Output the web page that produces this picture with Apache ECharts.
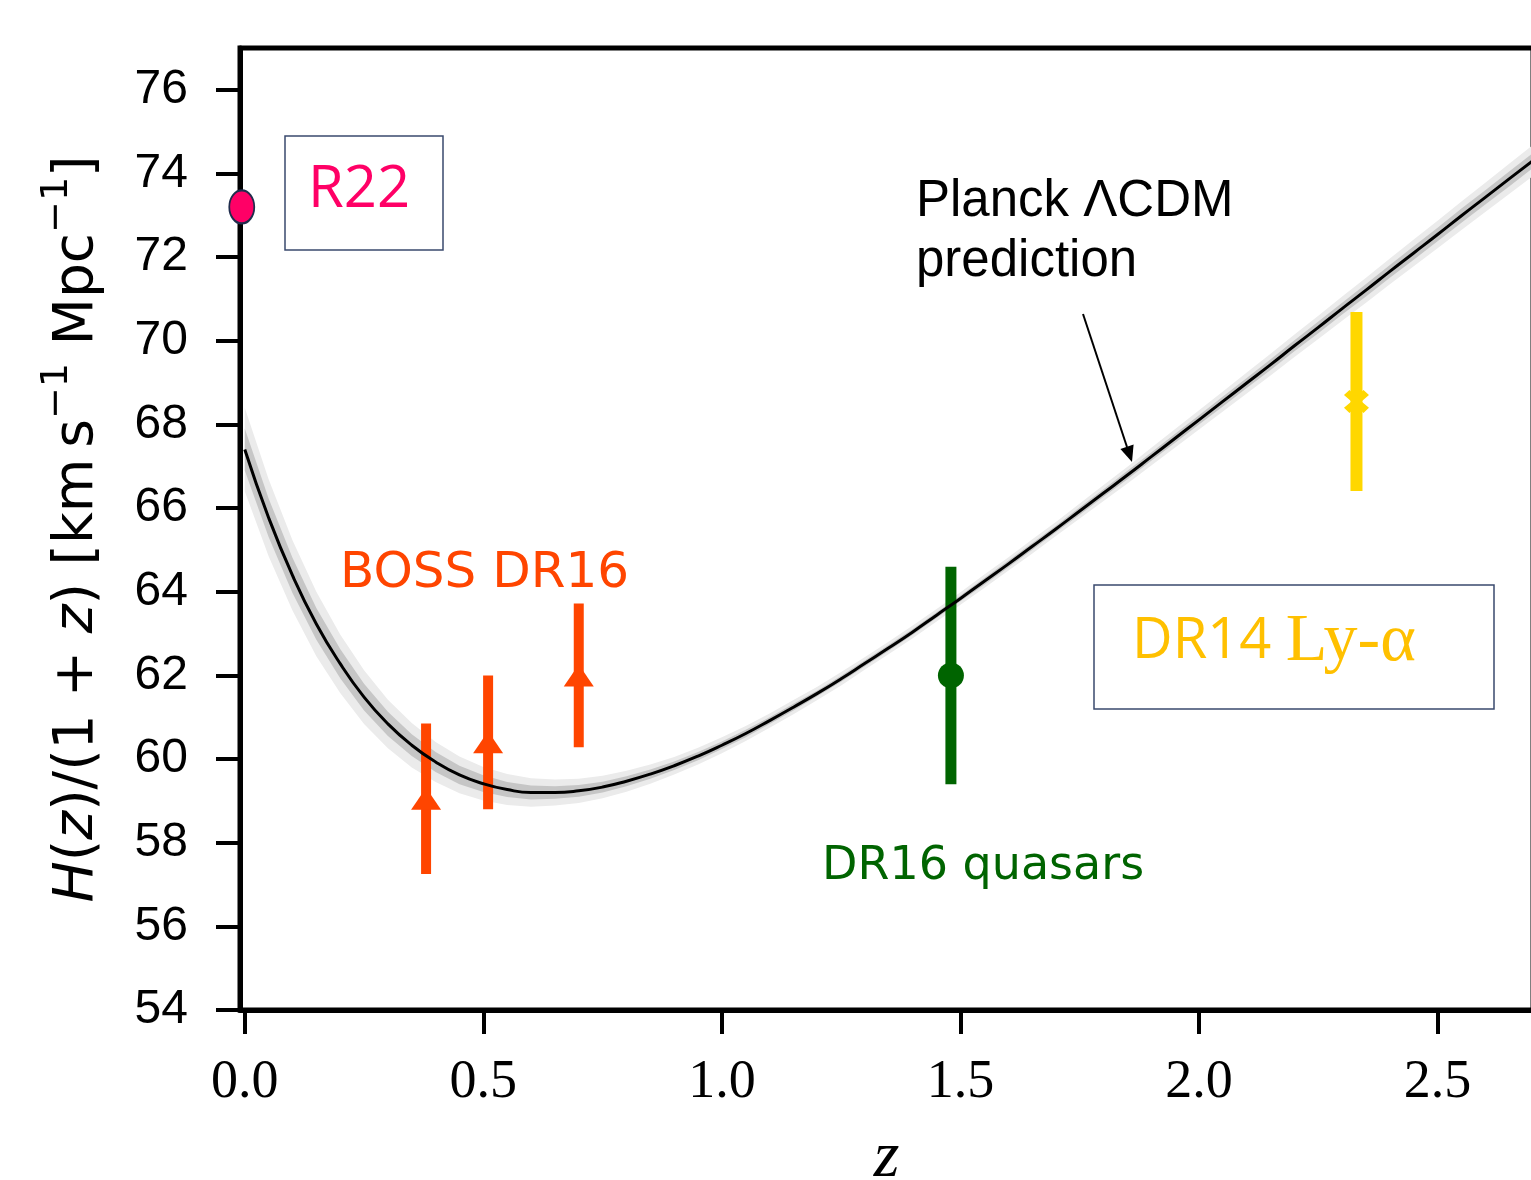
<!DOCTYPE html>
<html>
<head>
<meta charset="utf-8">
<script src="https://cdn.jsdelivr.net/npm/echarts@6/dist/echarts.min.js"></script>
<style>
  html, body { margin: 0; padding: 0; background: #fff; }
  #chart { width: 1531px; height: 1180px; }
</style>
</head>
<body>
<div id="chart"></div>
<script>
// Axis ticks
const zTicks = [0.0, 0.5, 1.0, 1.5, 2.0, 2.5];
const hTicks = [54, 56, 58, 60, 62, 64, 66, 68, 70, 72, 74, 76];

// Planck LCDM prediction H(z)/(1+z), sampled every 0.05 in z
const curveZ = [0.00, 0.05, 0.10, 0.15, 0.20, 0.25, 0.30, 0.35, 0.40, 0.45,
                0.50, 0.55, 0.60, 0.65, 0.70, 0.75, 0.80, 0.85, 0.90, 0.95,
                1.00, 1.05, 1.10, 1.15, 1.20, 1.25, 1.30, 1.35, 1.40, 1.45,
                1.50, 1.55, 1.60, 1.65, 1.70, 1.75, 1.80, 1.85, 1.90, 1.95,
                2.00, 2.05, 2.10, 2.15, 2.20, 2.25, 2.30, 2.35, 2.40, 2.45,
                2.50, 2.55, 2.60, 2.65, 2.70];
const curveH = [67.40, 65.77, 64.39, 63.23, 62.28, 61.48, 60.84, 60.33, 59.93, 59.62,
                59.41, 59.27, 59.20, 59.20, 59.24, 59.33, 59.47, 59.64, 59.84, 60.07,
                60.33, 60.61, 60.92, 61.24, 61.57, 61.92, 62.29, 62.66, 63.04, 63.44,
                63.84, 64.25, 64.66, 65.08, 65.50, 65.93, 66.36, 66.79, 67.23, 67.67,
                68.11, 68.55, 68.99, 69.43, 69.88, 70.32, 70.77, 71.21, 71.66, 72.10,
                72.54, 72.99, 73.43, 73.87, 74.31];
// 1σ and 2σ half-widths of the prediction band
const band1 = [0.50, 0.46, 0.42, 0.38, 0.35, 0.32, 0.29, 0.26, 0.24, 0.22,
               0.20, 0.18, 0.17, 0.15, 0.14, 0.13, 0.12, 0.11, 0.10, 0.10,
               0.09, 0.09, 0.08, 0.08, 0.07, 0.07, 0.07, 0.07, 0.07, 0.07,
               0.07, 0.08, 0.08, 0.08, 0.08, 0.09, 0.09, 0.10, 0.10, 0.11,
               0.11, 0.12, 0.12, 0.13, 0.13, 0.14, 0.14, 0.15, 0.15, 0.16,
               0.16, 0.17, 0.17, 0.18, 0.18];
const band2 = [1.00, 0.92, 0.84, 0.77, 0.70, 0.64, 0.58, 0.53, 0.48, 0.44,
               0.40, 0.37, 0.34, 0.31, 0.29, 0.27, 0.25, 0.23, 0.21, 0.20,
               0.19, 0.18, 0.17, 0.17, 0.16, 0.16, 0.15, 0.15, 0.15, 0.15,
               0.15, 0.16, 0.16, 0.17, 0.17, 0.18, 0.19, 0.20, 0.21, 0.22,
               0.23, 0.24, 0.25, 0.26, 0.27, 0.28, 0.29, 0.30, 0.31, 0.32,
               0.33, 0.34, 0.35, 0.36, 0.37];

// Measurements
const bossZ = [0.38, 0.51, 0.70];
const bossH = [59.05, 60.40, 62.00];
const bossErr = [1.80, 1.60, 1.72];

const qsoZ = [1.48];
const qsoH = [62.00];
const qsoErr = [2.60];

const lyaZ = [2.33];
const lyaH = [68.55];
const lyaErr = [2.14];

const r22Z = [0.0];
const r22H = [73.2];

const zip = (a, b) => a.map((v, i) => [v, b[i]]);

function errorBars(name, zs, hs, errs, color, barWidth) {
  return {
    name: name + ' error',
    type: 'custom',
    silent: true,
    z: 3,
    data: zs.map((z, i) => [z, hs[i], errs[i]]),
    renderItem: (params, api) => {
      const x = api.value(0), y = api.value(1), e = api.value(2);
      const top = api.coord([x, y + e]);
      const bot = api.coord([x, y - e]);
      return {
        type: 'rect',
        shape: { x: top[0] - barWidth / 2, y: top[1], width: barWidth, height: bot[1] - top[1] },
        style: { fill: color }
      };
    }
  };
}

function bandPolygon(api, half) {
  const upper = [], lower = [];
  for (let i = 0; i < curveZ.length; i++) {
    upper.push(api.coord([curveZ[i], curveH[i] + half[i]]));
    lower.push(api.coord([curveZ[i], curveH[i] - half[i]]));
  }
  return upper.concat(lower.reverse());
}

const chart = echarts.init(document.getElementById('chart'));

const option = {
  backgroundColor: '#fff',
  animation: false,
  grid: {
    left: 240, top: 48, width: 1293, height: 962,
    outerBoundsMode: 'none', containLabel: false,
    show: true, borderColor: '#000', borderWidth: 5
  },
  xAxis: {
    type: 'value', min: -0.01, max: 2.70,
    axisLine: { show: true, onZero: false, lineStyle: { color: '#000', width: 5 } },
    axisTick: { show: true, customValues: zTicks, length: 24, lineStyle: { color: '#000', width: 4 } },
    axisLabel: {
      customValues: zTicks, formatter: v => v.toFixed(1),
      fontFamily: 'Liberation Serif', fontSize: 54, color: '#000', margin: 46
    },
    splitLine: { show: false },
    name: 'z', nameLocation: 'middle', nameGap: 116,
    nameTextStyle: { fontFamily: 'Liberation Serif', fontStyle: 'italic', fontSize: 66, color: '#000' }
  },
  yAxis: {
    type: 'value', min: 54, max: 77,
    axisLine: { show: true, onZero: false, lineStyle: { color: '#000', width: 5 } },
    axisTick: { show: true, customValues: hTicks, length: 24, lineStyle: { color: '#000', width: 4 } },
    axisLabel: {
      customValues: hTicks,
      fontFamily: 'Liberation Sans', fontSize: 48, color: '#000', margin: 52
    },
    splitLine: { show: false },
    name: '{i|H}{n|(}{i|z}{n|)/(1 + }{i|z}{n|) [km\u2009s}{s|\u22121}{n| Mpc}{s|\u22121}{n|]}',
    nameLocation: 'middle', nameRotate: 90, nameGap: 122,
    nameTextStyle: {
      color: '#000',
      rich: {
        n: { fontFamily: 'DejaVu Sans', fontSize: 55, lineHeight: 80, color: '#000' },
        i: { fontFamily: 'DejaVu Sans', fontStyle: 'italic', fontSize: 55, lineHeight: 80, color: '#000' },
        s: { fontFamily: 'DejaVu Sans', fontSize: 38, lineHeight: 38, verticalAlign: 'top', color: '#000' }
      }
    }
  },
  series: [
    {
      name: 'Planck band',
      type: 'custom',
      silent: true,
      z: 1,
      data: [[curveZ[0], curveH[0]]],
      renderItem: (params, api) => ({
        type: 'group',
        children: [
          { type: 'polygon', shape: { points: bandPolygon(api, band2) }, style: { fill: '#ebebeb' } },
          { type: 'polygon', shape: { points: bandPolygon(api, band1) }, style: { fill: '#c6c6c6' } }
        ]
      })
    },
    errorBars('BOSS DR16', bossZ, bossH, bossErr, '#FF4500', 10),
    errorBars('DR16 quasars', qsoZ, qsoH, qsoErr, '#006400', 11),
    errorBars('DR14 Ly-α', lyaZ, lyaH, lyaErr, '#FFD700', 12),
    {
      name: 'Planck ΛCDM prediction',
      type: 'line',
      data: zip(curveZ, curveH),
      showSymbol: false,
      smooth: 0.5,
      z: 4,
      lineStyle: { color: '#000', width: 3 }
    },
    {
      name: 'BOSS DR16',
      type: 'scatter',
      data: zip(bossZ, bossH),
      symbol: 'triangle',
      symbolSize: [30, 22],
      z: 5,
      itemStyle: { color: '#FF4500', opacity: 1 }
    },
    {
      name: 'DR16 quasars',
      type: 'scatter',
      data: zip(qsoZ, qsoH),
      symbol: 'circle',
      symbolSize: 26,
      z: 5,
      itemStyle: { color: '#006400', opacity: 1 }
    },
    {
      name: 'DR14 Ly-α',
      type: 'scatter',
      data: zip(lyaZ, lyaH),
      symbol: 'path://M0,0.22 L0.22,0 L0.5,0.3 L0.78,0 L1,0.22 L0.7,0.5 L1,0.78 L0.78,1 L0.5,0.7 L0.22,1 L0,0.78 L0.3,0.5 Z',
      symbolSize: [25, 23],
      symbolKeepAspect: false,
      z: 5,
      itemStyle: { color: '#FFD700', opacity: 1 }
    },
    {
      name: 'R22',
      type: 'scatter',
      data: zip(r22Z, r22H),
      symbol: 'circle',
      symbolSize: [25, 33],
      symbolOffset: [-3, 0],
      clip: false,
      z: 6,
      itemStyle: { color: '#FF0066', borderColor: '#1F2D4D', borderWidth: 2, opacity: 1 }
    }
  ],
  graphic: [
    { type: 'rect', z: 10, shape: { x: 285, y: 136, width: 158, height: 114 },
      style: { fill: 'none', stroke: '#3A4A6E', lineWidth: 1.5 } },
    { type: 'text', z: 10,
      style: { text: 'R22', x: 308, y: 190, verticalAlign: 'middle',
               fontFamily: 'Open Sans', fontSize: 58, fill: '#FF0066' } },
    { type: 'rect', z: 10, shape: { x: 1094, y: 585, width: 400, height: 124 },
      style: { fill: 'none', stroke: '#3A4A6E', lineWidth: 1.5 } },
    { type: 'text', z: 10,
      style: {
        text: '{a|DR14 }{b|Ly-α}', x: 1132, y: 642, verticalAlign: 'middle',
        rich: {
          a: { fontFamily: 'Open Sans', fontSize: 56, fill: '#FFC000' },
          b: { fontFamily: 'Liberation Serif', fontSize: 68, fill: '#FFC000' }
        }
      } },
    { type: 'text', z: 10,
      style: { text: 'Planck ΛCDM\nprediction', x: 916, y: 172, verticalAlign: 'top',
               fontFamily: 'Liberation Sans', fontSize: 51, lineHeight: 60, fill: '#000' } },
    { type: 'line', z: 10,
      shape: { x1: 1083, y1: 314, x2: 1127, y2: 447 },
      style: { stroke: '#000', lineWidth: 2 } },
    { type: 'polygon', z: 10,
      shape: { points: [[1132, 462], [1120.4, 449], [1133.6, 444.6]] },
      style: { fill: '#000' } },
    { type: 'text', z: 10,
      style: { text: 'BOSS DR16', x: 340, y: 574, verticalAlign: 'middle',
               fontFamily: 'DejaVu Sans', fontSize: 50, fill: '#FF4500' } },
    { type: 'text', z: 10,
      style: { text: 'DR16 quasars', x: 822, y: 867, verticalAlign: 'middle',
               fontFamily: 'DejaVu Sans', fontSize: 46, fill: '#006400' } }
  ]
};

chart.setOption(option);
</script>
</body>
</html>
